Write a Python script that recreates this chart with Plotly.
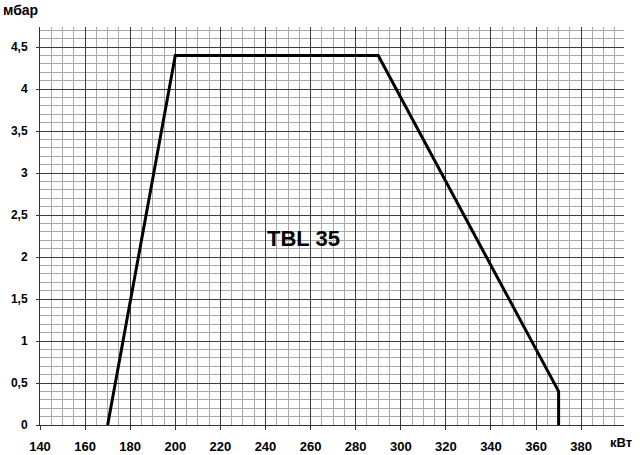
import plotly.graph_objects as go

# Data
power_kw = [170, 200, 290, 370, 370]
pressure_mbar = [0, 4.4, 4.4, 0.4, 0]
x_ticks = list(range(140, 381, 20))
label_text = "TBL 35"
label_x = 257
label_y = 2.22
x_unit = "кВт"
y_unit = "мбар"

FONT = "Liberation Sans, Arial, sans-serif"
W, H = 640, 455
ml, mr, mt, mb = 39.5, 16.2, 26.5, 30
pw = W - ml - mr
ph = H - mt - mb


def px_to_paper(px, py):
    return (px - ml) / pw, (H - mb - py) / ph


fig = go.Figure()
fig.add_trace(go.Scatter(
    x=power_kw, y=pressure_mbar, mode="lines",
    line=dict(color="black", width=3), hoverinfo="skip", showlegend=False,
))

fig.add_annotation(x=label_x, y=label_y, xref="x", yref="y", text=label_text,
                   showarrow=False,
                   font=dict(family=FONT, size=22, color="black", weight="bold"))

ux, uy = px_to_paper(20, 9)
fig.add_annotation(x=ux, y=uy, xref="paper", yref="paper", xanchor="center", yanchor="middle",
                   text=y_unit, showarrow=False,
                   font=dict(family=FONT, size=14, color="black", weight="bold"))
kx, ky = px_to_paper(620.5, 443)
fig.add_annotation(x=kx, y=ky, xref="paper", yref="paper", xanchor="center", yanchor="middle",
                   text=x_unit, showarrow=False,
                   font=dict(family=FONT, size=13, color="black", weight="bold"))

fig.update_layout(
    width=W, height=H,
    margin=dict(l=ml, r=mr, t=mt, b=mb, pad=0),
    plot_bgcolor="white", paper_bgcolor="white",
    separators=",.",
    showlegend=False,
)

fig.update_xaxes(
    range=[140, 399], tickvals=x_ticks,
    showgrid=True, gridcolor="#3c3c3c", gridwidth=1,
    minor=dict(dtick=5, tick0=140, showgrid=True, gridcolor="#a8a8a8", gridwidth=1, ticks=""),
    ticks="outside", ticklen=4, tickcolor="#333", tickwidth=1,
    showline=True, linecolor="#333", linewidth=1,
    zeroline=False, automargin=False,
    ticklabelstandoff=5,
    tickfont=dict(family=FONT, size=13, color="black", weight="bold"),
)
fig.update_yaxes(
    range=[0, 4.74], tick0=0, dtick=0.5,
    showgrid=True, gridcolor="#3c3c3c", gridwidth=1,
    minor=dict(dtick=0.1, tick0=0, showgrid=True, gridcolor="#a8a8a8", gridwidth=1, ticks=""),
    ticks="outside", ticklen=3, tickcolor="#333", tickwidth=1,
    showline=True, linecolor="#333", linewidth=1,
    zeroline=False, automargin=False,
    ticklabelstandoff=6,
    tickfont=dict(family=FONT, size=12, color="black", weight="bold"),
)

fig.write_html("out.html", config={"displayModeBar": False},
               post_script="document.body.style.margin='0';")
